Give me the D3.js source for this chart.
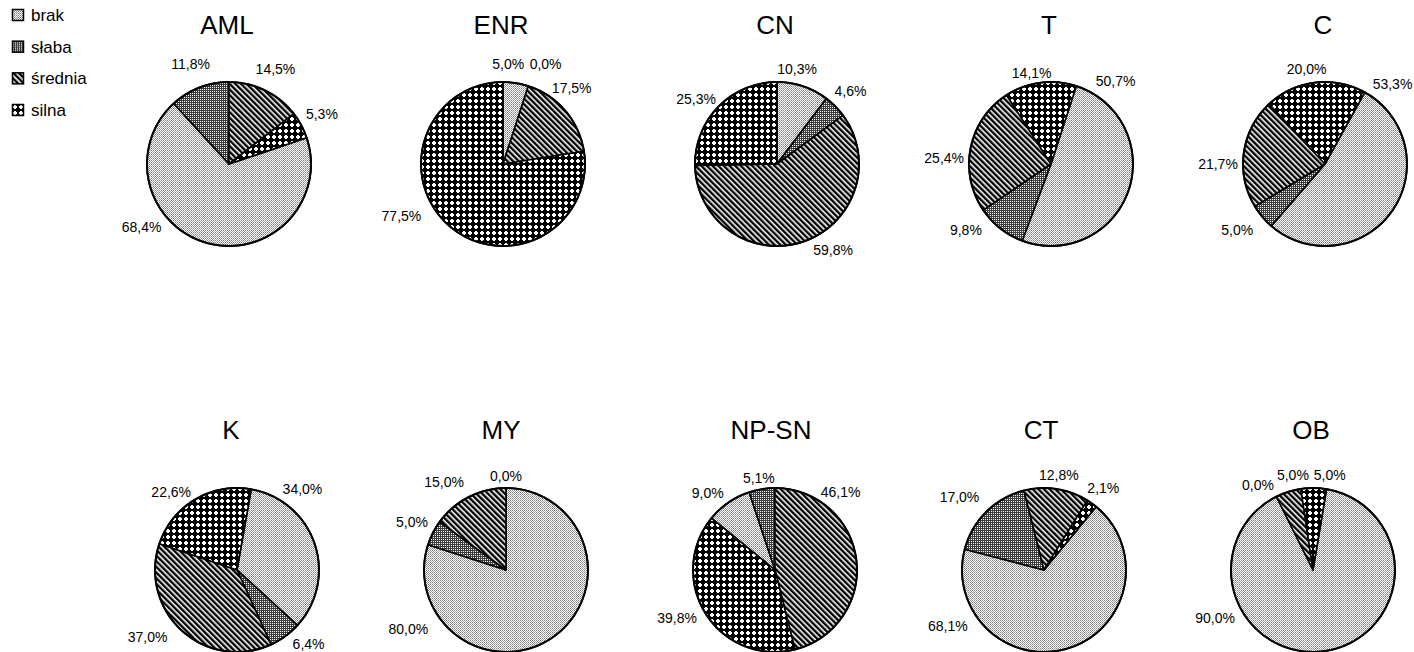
<!DOCTYPE html>
<html>
<head>
<meta charset="utf-8">
<script src="https://cdn.jsdelivr.net/npm/d3@7"></script>
<style>
  html, body { margin: 0; padding: 0; background: #fff; }
  svg { display: block; }
  text { font-family: "Liberation Sans", Arial, sans-serif; fill: #000; }
</style>
</head>
<body>
<svg id="chart" width="1414" height="652"></svg>
<script>
// Categories of intensity (legend order) and the ten groups
const categories = ["brak", "słaba", "średnia", "silna"];
const groups = ["AML", "ENR", "CN", "T", "C", "K", "MY", "NP-SN", "CT", "OB"];

// Share of each category within each group, in percent
const brak    = [68.4,  5.0, 10.3, 50.7, 53.3, 34.0, 80.0,  9.0, 68.1, 90.0];
const slaba   = [11.8,  0.0,  4.6,  9.8,  5.0,  6.4,  5.0,  5.1, 17.0,  0.0];
const srednia = [14.5, 17.5, 59.8, 25.4, 21.7, 37.0, 15.0, 46.1, 12.8,  5.0];
const silna   = [ 5.3, 77.5, 25.3, 14.1, 20.0, 22.6,  0.0, 39.8,  2.1,  5.0];

// ---- layout ----
const R = 82;
const perRow = 5;
const rowY = [164, 570];                       // pie centres per row
const titleY = [34, 439];                      // title baselines per row
const colRange = [[229, 1325], [237, 1313]];   // pie centres, first/last column
const titleRange = [[227, 1323], [231, 1311]]; // title centres, first/last column
// angle (deg, clockwise from 12 o'clock) at which the "brak" slice begins
const rotation = [71.3, 0, 0, 18, 29, 10, 0, -50.8, 39.5, 9.5];
// label placement where the default mid-slice position is not used:
// a direction in degrees, or [direction, distance from the centre]
const labelPlace = {
  "AML":   { "brak": [234, 108], "słaba": [339, 107], "średnia": [26, 106] },
  "ENR":   { "brak": [3, 100], "słaba": [23, 109], "średnia": 42, "silna": [243, 114] },
  "CN":    { "brak": 12, "średnia": [147, 103], "silna": 309 },
  "T":     { "brak": [38, 105], "słaba": [232, 108], "średnia": 273, "silna": [348, 93] },
  "C":     { "brak": [40, 105], "słaba": [233, 110], "średnia": 270, "silna": 349 },
  "K":     { "brak": [39, 104], "słaba": 136, "średnia": [233, 112], "silna": 320 },
  "MY":    { "brak": [239, 114], "średnia": [325, 108] },
  "NP-SN": { "brak": 319, "średnia": [40, 102], "silna": [244, 109], "słaba": [350, 93] },
  "CT":    { "brak": [240, 111], "słaba": [311, 112] },
  "OB":    { "brak": [244, 109], "słaba": [327, 101], "średnia": 348, "silna": 10 }
};

const series = [brak, slaba, srednia, silna];
const table = groups.map((g, i) => ({
  name: g,
  index: i,
  values: categories.map((c, k) => ({ cat: c, value: series[k][i] }))
}));

const svg = d3.select("#chart");
const defs = svg.append("defs");

// ---- fill patterns ----
// brak: fine grey stipple
const pBrak = defs.append("pattern").attr("id", "p-brak")
  .attr("patternUnits", "userSpaceOnUse").attr("width", 2).attr("height", 2);
pBrak.append("rect").attr("width", 2).attr("height", 2).attr("fill", "#fff");
pBrak.append("rect").attr("width", 1).attr("height", 1).attr("fill", "#7a7a7a");
pBrak.append("rect").attr("x", 1).attr("y", 1).attr("width", 1).attr("height", 1).attr("fill", "#a4a4a4");

// słaba: fine dark square grid
const pSlaba = defs.append("pattern").attr("id", "p-slaba")
  .attr("patternUnits", "userSpaceOnUse").attr("width", 2).attr("height", 2);
pSlaba.append("rect").attr("width", 2).attr("height", 2).attr("fill", "#3a3a3a");
pSlaba.append("rect").attr("x", 1).attr("y", 1).attr("width", 1).attr("height", 1).attr("fill", "#fff");

// średnia: wide downward diagonal stripes
const pSred = defs.append("pattern").attr("id", "p-srednia")
  .attr("patternUnits", "userSpaceOnUse").attr("width", 4).attr("height", 4)
  .attr("patternTransform", "rotate(-45)");
pSred.append("rect").attr("width", 4).attr("height", 4).attr("fill", "#fff");
pSred.append("rect").attr("width", 2.4).attr("height", 4).attr("fill", "#000");

// silna: black lattice with white dots
const pSil = defs.append("pattern").attr("id", "p-silna")
  .attr("patternUnits", "userSpaceOnUse").attr("width", 6).attr("height", 6);
pSil.append("rect").attr("width", 6).attr("height", 6).attr("fill", "#000");
pSil.append("rect").attr("x", 1).attr("y", 2).attr("width", 4).attr("height", 2).attr("fill", "#fff");
pSil.append("rect").attr("x", 2).attr("y", 1).attr("width", 2).attr("height", 4).attr("fill", "#fff");

const fill = d3.scaleOrdinal()
  .domain(categories)
  .range(["url(#p-brak)", "url(#p-slaba)", "url(#p-srednia)", "url(#p-silna)"]);

// ---- legend ----
const legendY = d3.scalePoint().domain(categories).range([15, 110]);
const legend = svg.append("g").attr("class", "legend");
const li = legend.selectAll("g").data(categories).join("g")
  .attr("transform", d => `translate(0,${legendY(d)})`);
li.append("rect")
  .attr("x", 12.5).attr("y", -5.5).attr("width", 11).attr("height", 11)
  .attr("fill", d => fill(d)).attr("stroke", "#000").attr("stroke-width", 1.5);
li.append("text")
  .attr("x", 31).attr("y", 6)
  .style("font-size", "17px")
  .text(d => d);

// ---- pies ----
const arc = d3.arc().innerRadius(0).outerRadius(R);
const fmt = v => d3.format(".1f")(v).replace(".", ",") + "%";
const colScale = colRange.map(r => d3.scalePoint().domain(d3.range(perRow)).range(r));
const titleScale = titleRange.map(r => d3.scalePoint().domain(d3.range(perRow)).range(r));

table.forEach(g => {
  const row = Math.floor(g.index / perRow);
  const col = g.index % perRow;
  const cx = colScale[row](col), cy = rowY[row];
  const start = rotation[g.index] * Math.PI / 180;

  const pie = d3.pie().sort(null).value(d => d.value)
    .startAngle(start).endAngle(start + 2 * Math.PI);
  const arcs = pie(g.values);

  svg.append("text")
    .attr("x", titleScale[row](col)).attr("y", titleY[row])
    .attr("text-anchor", "middle")
    .style("font-size", "26px")
    .text(g.name);

  const pg = svg.append("g").attr("transform", `translate(${cx},${cy})`);
  pg.selectAll("path").data(arcs.filter(a => a.value > 0)).join("path")
    .attr("d", arc)
    .attr("fill", d => fill(d.data.cat))
    .attr("stroke", "#000").attr("stroke-width", 1.6)
    .attr("stroke-linejoin", "round");
  pg.append("circle").attr("r", R).attr("fill", "none")
    .attr("stroke", "#000").attr("stroke-width", 2);

  const place = labelPlace[g.name] || {};
  pg.selectAll("text.lab").data(arcs).join("text")
    .attr("class", "lab")
    .attr("text-anchor", "middle")
    .style("font-size", "14px")
    .text(d => fmt(d.data.value))
    .each(function (d) {
      const p = place[d.data.cat];
      let deg, dist;
      if (Array.isArray(p)) { deg = p[0]; dist = p[1]; }
      else if (p !== undefined) { deg = p; }
      const th = deg !== undefined ? deg * Math.PI / 180 : (d.startAngle + d.endAngle) / 2;
      const s = Math.sin(th), c = Math.cos(th);
      if (dist === undefined) dist = R + 12 + 13 * Math.abs(s);
      d3.select(this).attr("x", dist * s).attr("y", -dist * c + 5);
    });
});
</script>
</body>
</html>
